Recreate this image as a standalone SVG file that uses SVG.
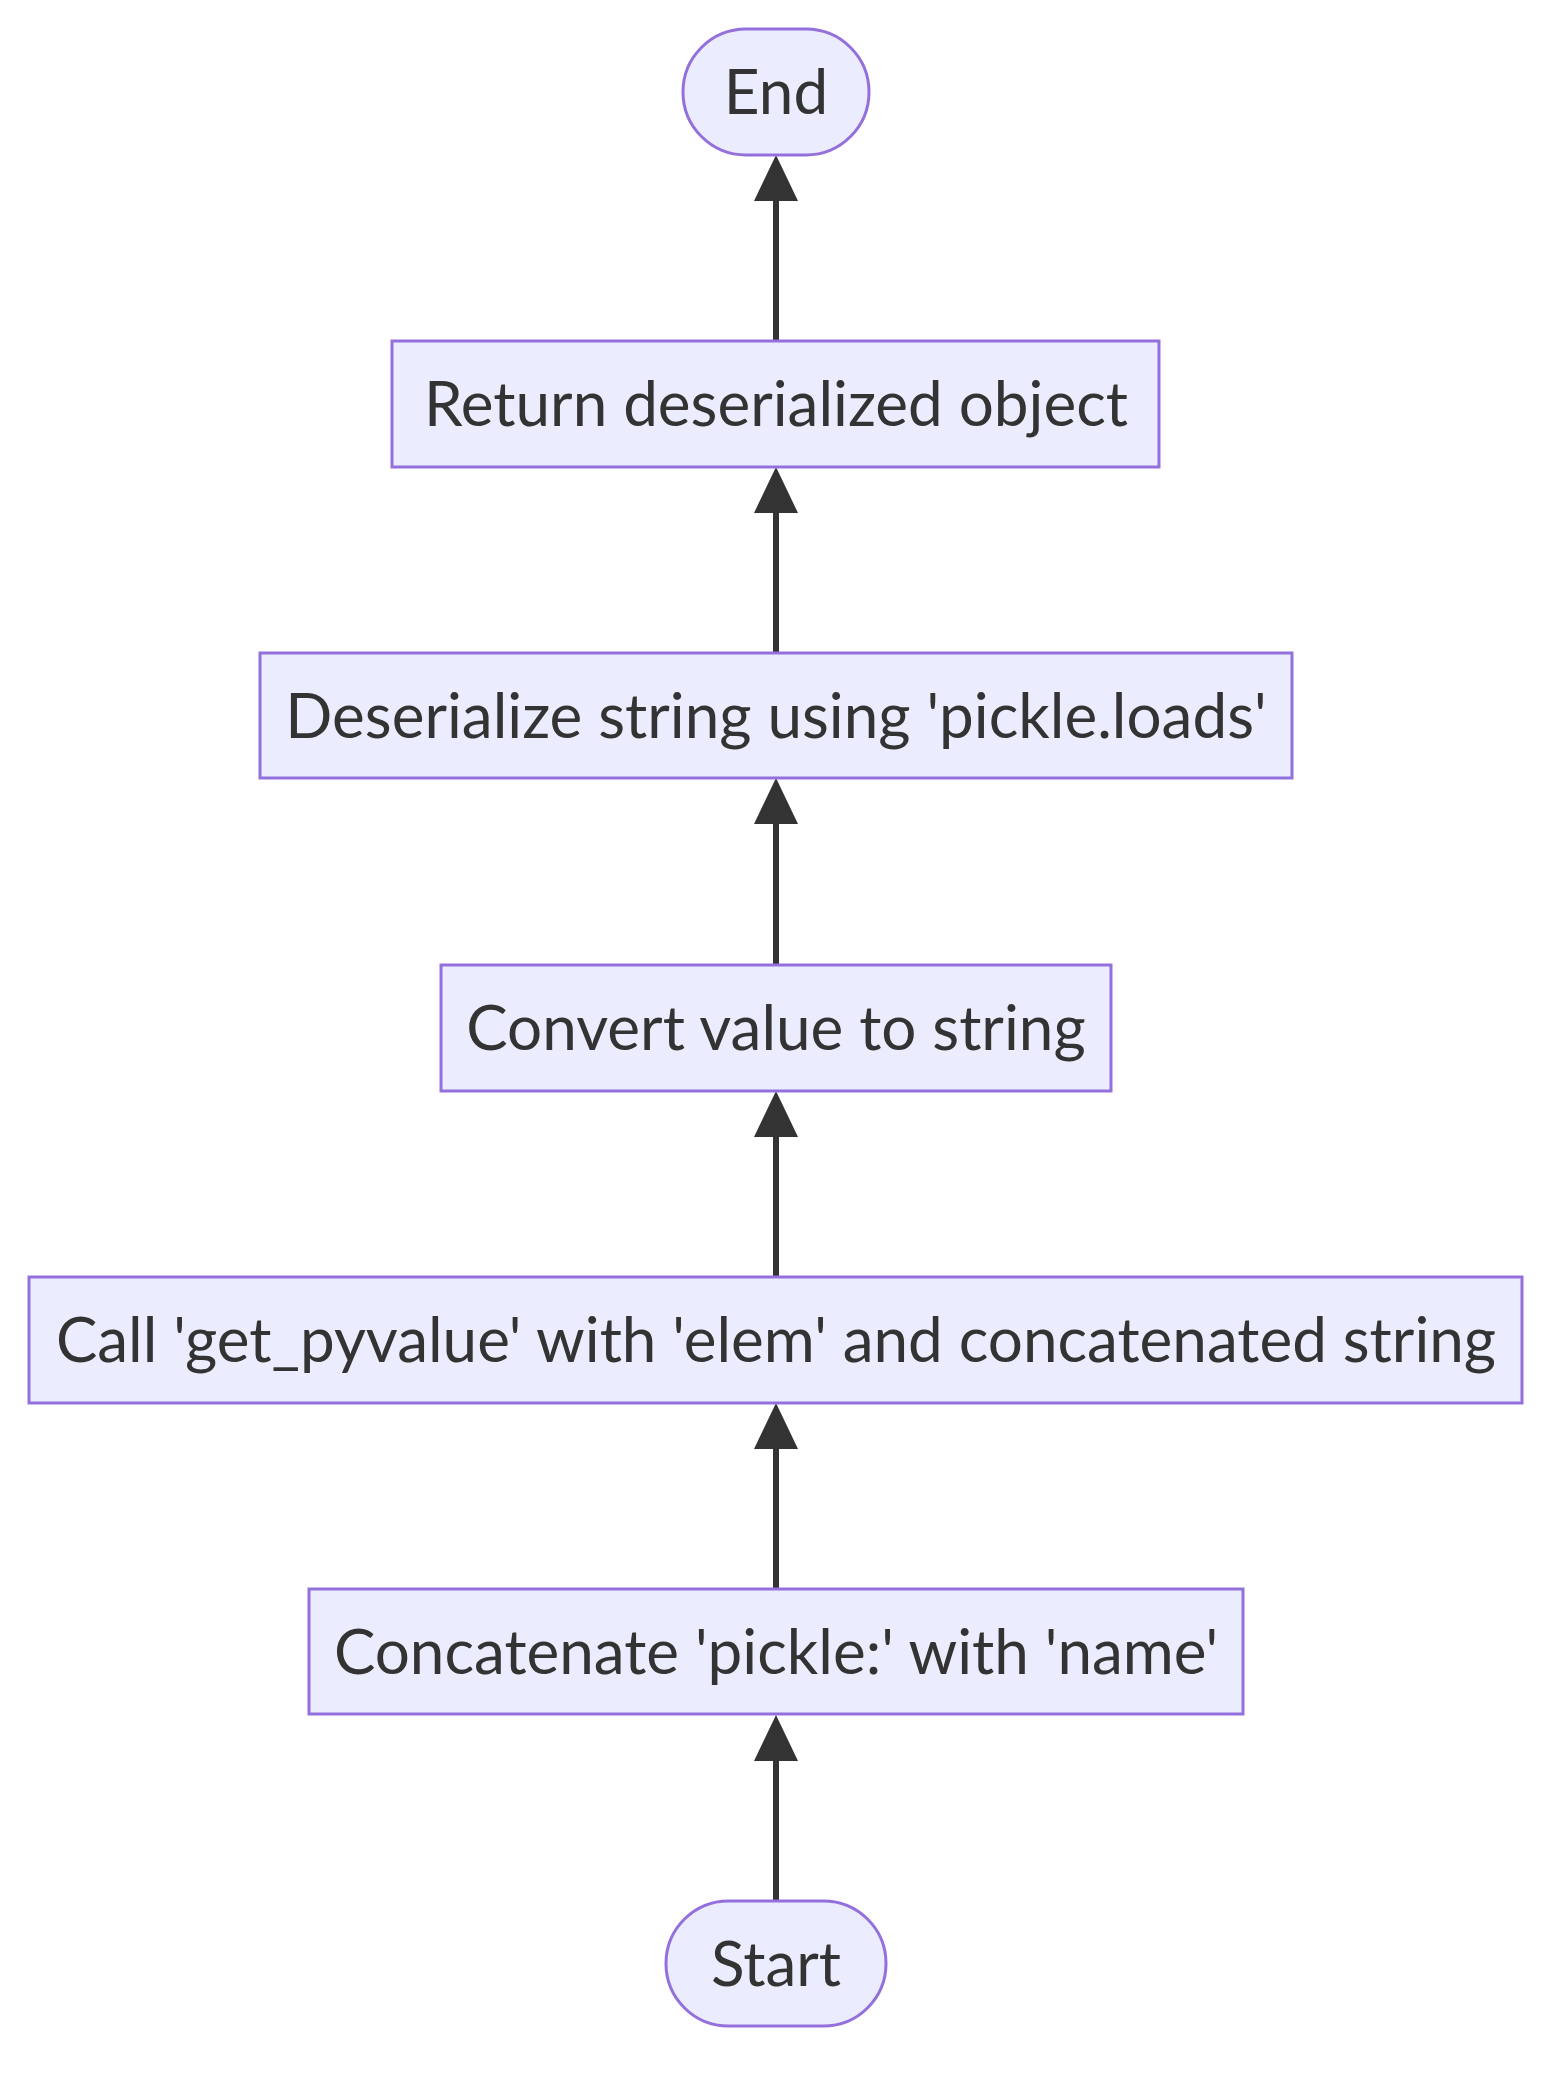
<svg xmlns="http://www.w3.org/2000/svg" width="1568" height="2078" viewBox="0 0 1568 2078">
<style>
.node rect{fill:#ECECFF;stroke:#9370DB;stroke-width:3}
.node text{font-family:Lato,"Open Sans",sans-serif;font-size:62px;fill:#333333;text-anchor:middle}
.edge{stroke:#333333;stroke-width:6;fill:none}
</style>
<defs>
<marker id="arrow" markerUnits="userSpaceOnUse" viewBox="0 0 46 44" refX="6" refY="22" markerWidth="46" markerHeight="44" orient="auto">
<path d="M0,0 L46,22 L0,44 z" fill="#333333"/>
</marker>
</defs>
<rect width="1568" height="2078" fill="#ffffff"/>
<g id="connectors">
<path class="edge" d="M776,1901 L776,1755" marker-end="url(#arrow)"/>
<path class="edge" d="M776,1589 L776,1443" marker-end="url(#arrow)"/>
<path class="edge" d="M776,1277 L776,1131" marker-end="url(#arrow)"/>
<path class="edge" d="M776,965 L776,818" marker-end="url(#arrow)"/>
<path class="edge" d="M776,653 L776,507" marker-end="url(#arrow)"/>
<path class="edge" d="M776,341 L776,195" marker-end="url(#arrow)"/>
</g>
<g id="end" class="node"><rect x="683" y="29" width="186" height="126" rx="63" ry="63"/><text x="776" y="114">End</text></g>
<g id="return" class="node"><rect x="392" y="341" width="767" height="126"/><text x="776" y="426">Return deserialized object</text></g>
<g id="deserialize" class="node"><rect x="260" y="653" width="1032" height="125"/><text x="776" y="738">Deserialize string using 'pickle.loads'</text></g>
<g id="convert" class="node"><rect x="441" y="965" width="670" height="126"/><text x="776" y="1050">Convert value to string</text></g>
<g id="call" class="node"><rect x="29" y="1277" width="1493" height="126"/><text x="776" y="1362">Call 'get_pyvalue' with 'elem' and concatenated string</text></g>
<g id="concat" class="node"><rect x="309" y="1589" width="934" height="125"/><text x="776" y="1674">Concatenate 'pickle:' with 'name'</text></g>
<g id="start" class="node"><rect x="666" y="1901" width="220" height="125" rx="62.5" ry="62.5"/><text x="776" y="1986">Start</text></g>
</svg>
